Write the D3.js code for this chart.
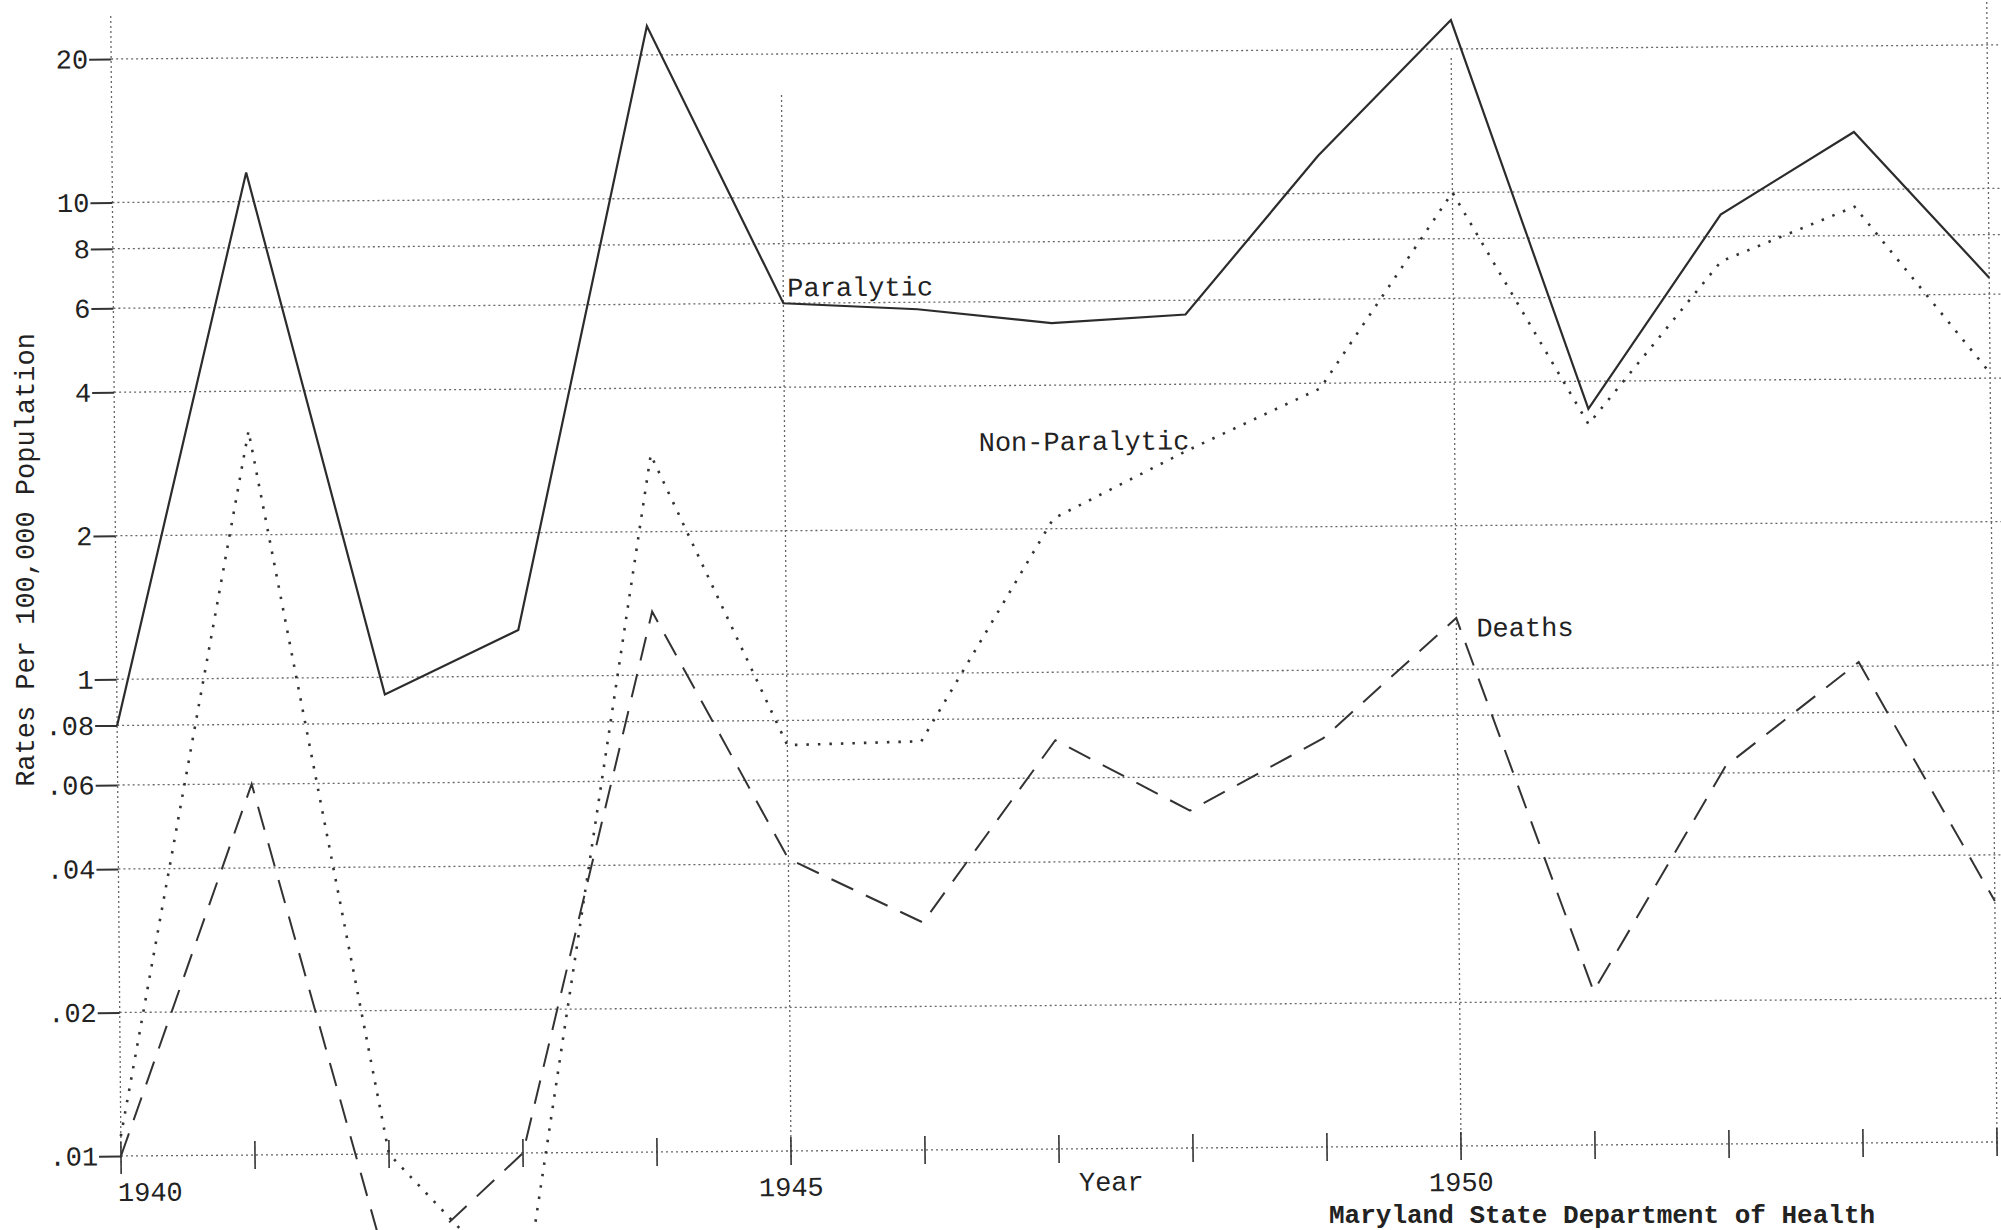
<!DOCTYPE html>
<html lang="en">
<head>
    <meta charset="UTF-8">
    <title>Poliomyelitis rates, Maryland 1940-1954</title>
    <script src="https://d3js.org/d3.v7.min.js"></script>
    <style>
        body { margin: 0; background: #fff; }
        svg { display: block; }
    </style>
</head>
<body>
    <div id="plot"></div>

    <script>
        "use strict";

        // rates per 100,000 population
        let years = [1940, 1941, 1942, 1943, 1944, 1945, 1946, 1947, 1948, 1949, 1950, 1951, 1952, 1953, 1954];
        let paralytic = [0.8, 11.5, 0.92, 1.25, 23, 6.0, 5.8, 5.4, 5.6, 12, 23, 3.5, 8.9, 13.2, 6.5];
        let nonParalytic = [0.11, 3.3, 0.1, 0.05, 2.9, 0.71, 0.72, 2.1, 2.9, 3.9, 10, 3.25, 7.1, 9.2, 4.1];
        let deaths = [0.1, 0.6, 0.055, 0.1, 1.36, 0.41, 0.30, 0.72, 0.51, 0.72, 1.28, 0.21, 0.62, 1.02, 0.32];

        // the lower decade of the log scale was typed as .01 - .08
        let yTicks = [0.1, 0.2, 0.4, 0.6, 0.8, 1, 2, 4, 6, 8, 10, 20];
        let yTickLabels = ['.01', '.02', '.04', '.06', '.08', '1', '2', '4', '6', '8', '10', '20'];
        let yearLabels = [1940, 1945, 1950];
        let gridYears = [1940, 1945, 1950, 1954];

        function translate(px, py) {
            return 'translate(' + px + ', ' + py + ')';
        }

        let svgWidth = 2001;
        let svgHeight = 1230;
        let font = '"Liberation Mono", "Courier New", monospace';
        let ink = '#222';

        let x = d3.scaleLinear().domain([1940, 1954]).range([121, 1997]);
        let y = d3.scaleLog().domain([0.1, 20]).range([1156, 59]);
        let x0 = x(1940);
        let y0 = y(0.1);

        let svg = d3.select('#plot')
                    .append('svg')
                    .attr('width', svgWidth)
                    .attr('height', svgHeight);

        svg.append('rect')
            .attr('width', svgWidth)
            .attr('height', svgHeight)
            .attr('fill', '#fff');

        // the scanned sheet is a little skewed
        let g = svg.append('g')
                    .attr('transform', translate(x0, y0) + ' matrix(1,-0.0075,0.009,1,0,0) ' + translate(-x0, -y0));

        // dotted rules
        g.selectAll('.hgrid')
            .data(yTicks)
            .enter()
            .append('line')
            .attr('class', 'hgrid')
            .attr('x1', x0)
            .attr('x2', svgWidth + 40)
            .attr('y1', d => y(d))
            .attr('y2', d => y(d))
            .attr('stroke', '#666')
            .attr('stroke-width', 1.3)
            .attr('stroke-dasharray', '2,3');

        let gridTop = {1940: 16, 1945: 100, 1950: 68, 1954: 6};
        g.selectAll('.vgrid')
            .data(gridYears)
            .enter()
            .append('line')
            .attr('class', 'vgrid')
            .attr('x1', d => x(d))
            .attr('x2', d => x(d))
            .attr('y1', d => gridTop[d])
            .attr('y2', y0 + 6)
            .attr('stroke', '#666')
            .attr('stroke-width', 1.3)
            .attr('stroke-dasharray', '2,3');

        // year ticks cross the bottom rule
        g.selectAll('.xtick')
            .data(years)
            .enter()
            .append('line')
            .attr('class', 'xtick')
            .attr('x1', d => x(d))
            .attr('x2', d => x(d))
            .attr('y1', y0 - 14)
            .attr('y2', d => d === 1940 ? y0 + 18 : y0 + 14)
            .attr('stroke', '#333')
            .attr('stroke-width', 1.6);

        let yAxis = d3.axisLeft(y)
                        .tickValues(yTicks)
                        .tickFormat((d, i) => yTickLabels[i])
                        .tickSize(22)
                        .tickPadding(1);

        let ya = g.append('g')
                    .attr('transform', translate(x0, 0))
                    .call(yAxis);
        ya.select('.domain').remove();
        ya.selectAll('line')
            .attr('stroke', '#333')
            .attr('stroke-width', 2);
        ya.selectAll('text')
            .attr('font-family', font)
            .attr('font-size', 27)
            .attr('fill', ink);

        g.selectAll('.yearlabel')
            .data(yearLabels)
            .enter()
            .append('text')
            .attr('class', 'yearlabel')
            .attr('x', d => x(d) + (d === 1940 ? 29 : 0))
            .attr('y', y0 + 45)
            .attr('text-anchor', 'middle')
            .attr('font-family', font)
            .attr('font-size', 27)
            .attr('fill', ink)
            .text(d => d);

        g.append('text')
            .attr('x', x(1947) + 52)
            .attr('y', y0 + 42)
            .attr('text-anchor', 'middle')
            .attr('font-family', font)
            .attr('font-size', 27)
            .attr('fill', ink)
            .text('Year');

        // the three series
        let line = d3.line()
                        .x((d, i) => x(years[i]))
                        .y(d => y(d));

        g.append('path')
            .datum(paralytic)
            .attr('d', line)
            .attr('fill', 'none')
            .attr('stroke', '#2c2c2c')
            .attr('stroke-width', 2.2);

        g.append('path')
            .datum(nonParalytic)
            .attr('d', line)
            .attr('fill', 'none')
            .attr('stroke', '#333')
            .attr('stroke-width', 2.6)
            .attr('stroke-dasharray', '2.5,9');

        g.append('path')
            .datum(deaths)
            .attr('d', line)
            .attr('fill', 'none')
            .attr('stroke', '#333')
            .attr('stroke-width', 2)
            .attr('stroke-dasharray', '24,14');

        let seriesLabels = [
            {text: 'Paralytic', year: 1945, dx: 4, value: 6.2},
            {text: 'Non-Paralytic', year: 1946, dx: 60, value: 2.92},
            {text: 'Deaths', year: 1950, dx: 20, value: 1.17}
        ];
        g.selectAll('.serieslabel')
            .data(seriesLabels)
            .enter()
            .append('text')
            .attr('class', 'serieslabel')
            .attr('x', d => x(d.year) + d.dx)
            .attr('y', d => y(d.value))
            .attr('font-family', font)
            .attr('font-size', 27)
            .attr('fill', ink)
            .text(d => d.text);

        svg.append('text')
            .attr('transform', translate(34, 560) + ' rotate(-90)')
            .attr('text-anchor', 'middle')
            .attr('font-family', font)
            .attr('font-size', 27)
            .attr('fill', ink)
            .text('Rates Per 100,000 Population');

        svg.append('text')
            .attr('x', 1329)
            .attr('y', 1223)
            .attr('font-family', font)
            .attr('font-size', 26)
            .attr('font-weight', 'bold')
            .attr('fill', ink)
            .text('Maryland State Department of Health');
    </script>
</body>
</html>
